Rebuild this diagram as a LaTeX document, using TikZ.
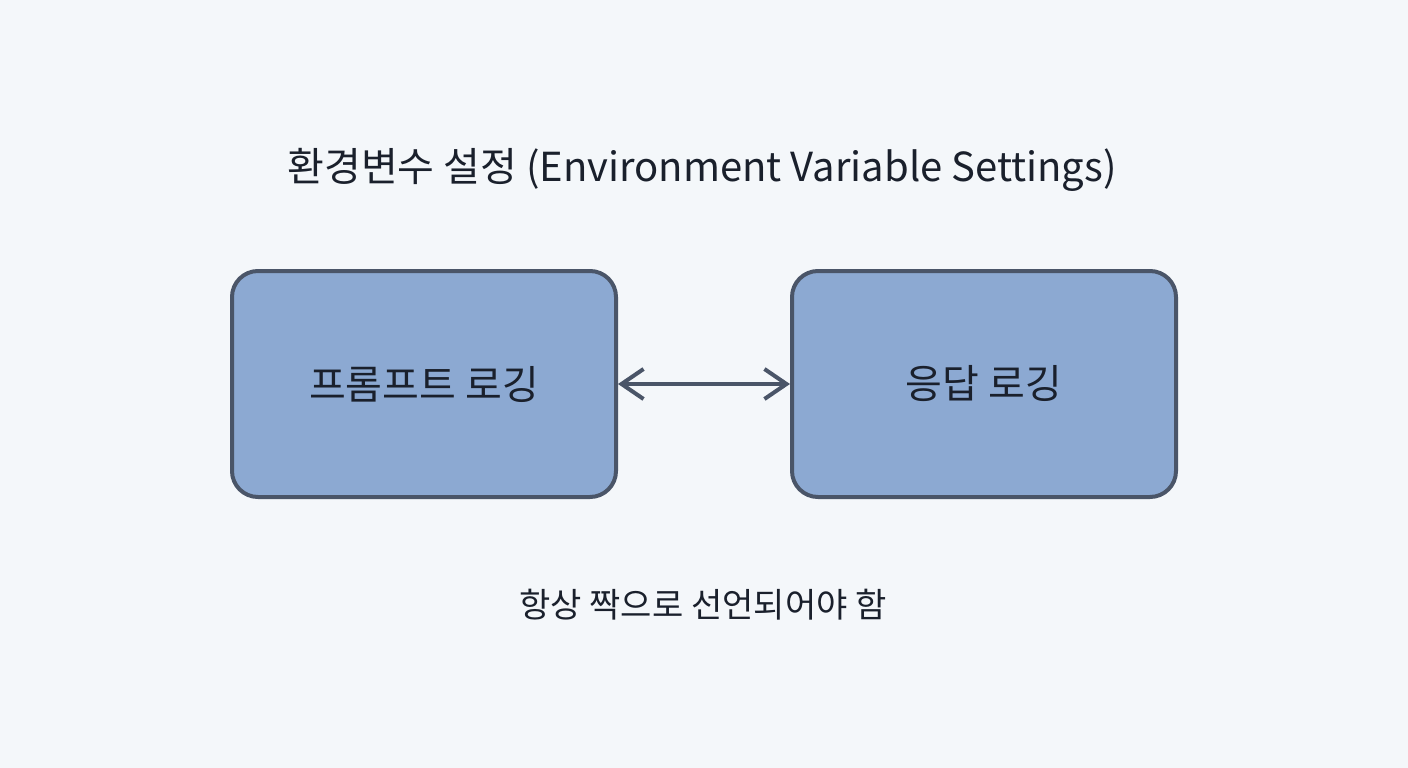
\documentclass[tikz,border=0pt]{standalone}
\usepackage{fontspec}
\setmainfont{Noto Sans CJK KR}
\usetikzlibrary{arrows.meta}
\definecolor{bgc}{HTML}{F4F7FA}
\definecolor{boxfill}{HTML}{8CA9D2}
\definecolor{edge}{HTML}{4A5568}
\definecolor{txt}{HTML}{1A202C}
\tikzset{
  box/.style={draw=edge, line width=4pt, fill=boxfill, rounded corners=26pt,
    minimum width=384pt, minimum height=226pt, text=txt, inner sep=0pt,
    font=\fontsize{40}{46}\selectfont},
  link/.style={draw=edge, line width=4pt, {Straight Barb[length=22pt,width=30pt,line width=4pt]}-{Straight Barb[length=22pt,width=30pt,line width=4pt]}},
  label/.style={text=txt, inner sep=0pt}
}
\begin{document}
\begin{tikzpicture}[x=1pt,y=-1pt]
\fill[bgc] (0,0) rectangle (1408,768);
\useasboundingbox (0,0) rectangle (1408,768);
\node[label, font=\fontsize{40}{46}\selectfont] (title) at (702,170) {환경변수 설정 (Environment Variable Settings)};
\node[box] (prompt) at (424,384) {프롬프트 로깅};
\node[box] (resp) at (984,384) {응답 로깅};
\draw[link] (prompt.east) -- (resp.west);
\node[label, font=\fontsize{34}{40}\selectfont] (note) at (703,605) {항상 짝으로 선언되어야 함};
\end{tikzpicture}
\end{document}
